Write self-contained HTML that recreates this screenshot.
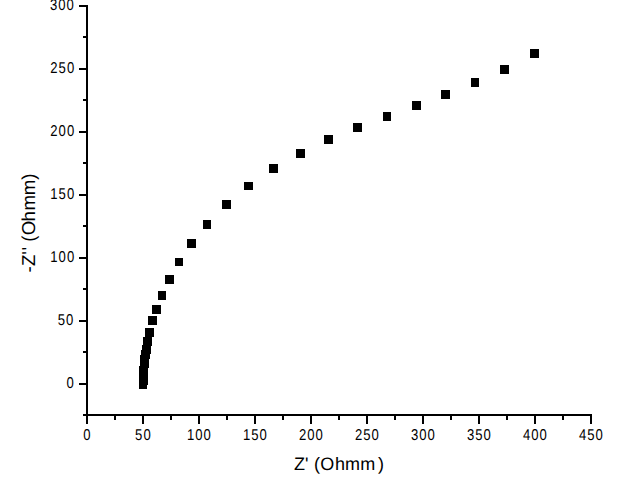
<!DOCTYPE html>
<html><head><meta charset="utf-8"><style>
html,body{margin:0;padding:0;background:#fff;}
body{width:626px;height:498px;overflow:hidden;}
svg{display:block;}
text{text-rendering:geometricPrecision;}
.l{font-family:"Liberation Sans",sans-serif;font-size:15.6px;letter-spacing:1.2px;fill:#000;}
.t{font-family:"Liberation Sans",sans-serif;font-size:18px;fill:#000;}
</style></head><body>
<svg width="626" height="498" viewBox="0 0 626 498" shape-rendering="crispEdges">
<rect width="626" height="498" fill="#fff"/>
<rect x="86" y="5" width="2" height="419" fill="#000"/>
<rect x="83" y="414" width="509" height="2" fill="#000"/>
<rect x="83" y="414" width="4" height="2" fill="#000"/>
<rect x="79" y="383" width="8" height="2" fill="#000"/>
<rect x="83" y="351" width="4" height="2" fill="#000"/>
<rect x="79" y="320" width="8" height="2" fill="#000"/>
<rect x="83" y="288" width="4" height="2" fill="#000"/>
<rect x="79" y="257" width="8" height="2" fill="#000"/>
<rect x="83" y="225" width="4" height="2" fill="#000"/>
<rect x="79" y="194" width="8" height="2" fill="#000"/>
<rect x="83" y="162" width="4" height="2" fill="#000"/>
<rect x="79" y="131" width="8" height="2" fill="#000"/>
<rect x="83" y="99" width="4" height="2" fill="#000"/>
<rect x="79" y="68" width="8" height="2" fill="#000"/>
<rect x="83" y="36" width="4" height="2" fill="#000"/>
<rect x="79" y="5" width="8" height="2" fill="#000"/>
<rect x="86" y="414" width="2" height="10" fill="#000"/>
<rect x="114" y="414" width="2" height="6" fill="#000"/>
<rect x="142" y="414" width="2" height="10" fill="#000"/>
<rect x="170" y="414" width="2" height="6" fill="#000"/>
<rect x="198" y="414" width="2" height="10" fill="#000"/>
<rect x="226" y="414" width="2" height="6" fill="#000"/>
<rect x="254" y="414" width="2" height="10" fill="#000"/>
<rect x="282" y="414" width="2" height="6" fill="#000"/>
<rect x="310" y="414" width="2" height="10" fill="#000"/>
<rect x="338" y="414" width="2" height="6" fill="#000"/>
<rect x="366" y="414" width="2" height="10" fill="#000"/>
<rect x="394" y="414" width="2" height="6" fill="#000"/>
<rect x="422" y="414" width="2" height="10" fill="#000"/>
<rect x="450" y="414" width="2" height="6" fill="#000"/>
<rect x="478" y="414" width="2" height="10" fill="#000"/>
<rect x="506" y="414" width="2" height="6" fill="#000"/>
<rect x="534" y="414" width="2" height="10" fill="#000"/>
<rect x="562" y="414" width="2" height="6" fill="#000"/>
<rect x="590" y="414" width="2" height="10" fill="#000"/>
<text transform="translate(74.90,388.34) scale(0.84,1)" text-anchor="end" class="l">0</text>
<text transform="translate(74.40,324.52) scale(0.84,1)" text-anchor="end" class="l">50</text>
<text transform="translate(75.20,261.59) scale(0.84,1)" text-anchor="end" class="l">100</text>
<text transform="translate(75.20,198.67) scale(0.84,1)" text-anchor="end" class="l">150</text>
<text transform="translate(75.20,135.75) scale(0.84,1)" text-anchor="end" class="l">200</text>
<text transform="translate(75.20,72.82) scale(0.84,1)" text-anchor="end" class="l">250</text>
<text transform="translate(74.90,9.60) scale(0.84,1)" text-anchor="end" class="l">300</text>
<text transform="translate(87.40,439.9) scale(0.84,1)" text-anchor="middle" class="l">0</text>
<text transform="translate(143.40,439.9) scale(0.84,1)" text-anchor="middle" class="l">50</text>
<text transform="translate(199.40,439.9) scale(0.84,1)" text-anchor="middle" class="l">100</text>
<text transform="translate(255.40,439.9) scale(0.84,1)" text-anchor="middle" class="l">150</text>
<text transform="translate(311.40,439.9) scale(0.84,1)" text-anchor="middle" class="l">200</text>
<text transform="translate(367.40,439.9) scale(0.84,1)" text-anchor="middle" class="l">250</text>
<text transform="translate(423.40,439.9) scale(0.84,1)" text-anchor="middle" class="l">300</text>
<text transform="translate(479.40,439.9) scale(0.84,1)" text-anchor="middle" class="l">350</text>
<text transform="translate(535.40,439.9) scale(0.84,1)" text-anchor="middle" class="l">400</text>
<text transform="translate(591.40,439.9) scale(0.84,1)" text-anchor="middle" class="l">450</text>
<text x="293.93 305.09 309.43 313.88 320.25 334.95 345.00 360.20 377.99" y="469.6" class="t">Z' (Ohmm)</text>
<text transform="translate(35.2,272.5) rotate(-90)" x="0.00 6.43 17.89 21.99 25.50 30.78 37.25 50.95 61.90 77.20 92.80" y="0" class="t" style="font-size:18.7px">-Z'' (Ohmm)</text>
<rect x="530" y="49" width="9" height="9" fill="#000"/>
<rect x="500" y="65" width="9" height="9" fill="#000"/>
<rect x="471" y="78" width="8" height="9" fill="#000"/>
<rect x="441" y="90" width="9" height="9" fill="#000"/>
<rect x="412" y="101" width="9" height="9" fill="#000"/>
<rect x="383" y="112" width="8" height="9" fill="#000"/>
<rect x="353" y="123" width="9" height="9" fill="#000"/>
<rect x="324" y="135" width="9" height="9" fill="#000"/>
<rect x="296" y="149" width="9" height="9" fill="#000"/>
<rect x="269" y="164" width="9" height="9" fill="#000"/>
<rect x="244" y="182" width="9" height="8" fill="#000"/>
<rect x="222" y="200" width="9" height="9" fill="#000"/>
<rect x="203" y="220" width="8" height="9" fill="#000"/>
<rect x="187" y="239" width="9" height="9" fill="#000"/>
<rect x="175" y="258" width="8" height="8" fill="#000"/>
<rect x="165" y="275" width="9" height="9" fill="#000"/>
<rect x="158" y="291" width="8" height="9" fill="#000"/>
<rect x="152" y="305" width="9" height="9" fill="#000"/>
<rect x="148" y="316" width="9" height="9" fill="#000"/>
<rect x="145" y="328" width="9" height="9" fill="#000"/>
<rect x="143" y="337" width="9" height="9" fill="#000"/>
<rect x="142" y="345" width="9" height="9" fill="#000"/>
<rect x="141" y="350" width="9" height="9" fill="#000"/>
<rect x="140" y="355" width="9" height="9" fill="#000"/>
<rect x="140" y="359" width="9" height="9" fill="#000"/>
<rect x="139" y="366" width="9" height="9" fill="#000"/>
<rect x="139" y="370" width="9" height="9" fill="#000"/>
<rect x="139" y="373" width="9" height="9" fill="#000"/>
<rect x="139" y="376" width="9" height="9" fill="#000"/>
<rect x="139" y="380" width="8" height="9" fill="#000"/>
</svg>
</body></html>
